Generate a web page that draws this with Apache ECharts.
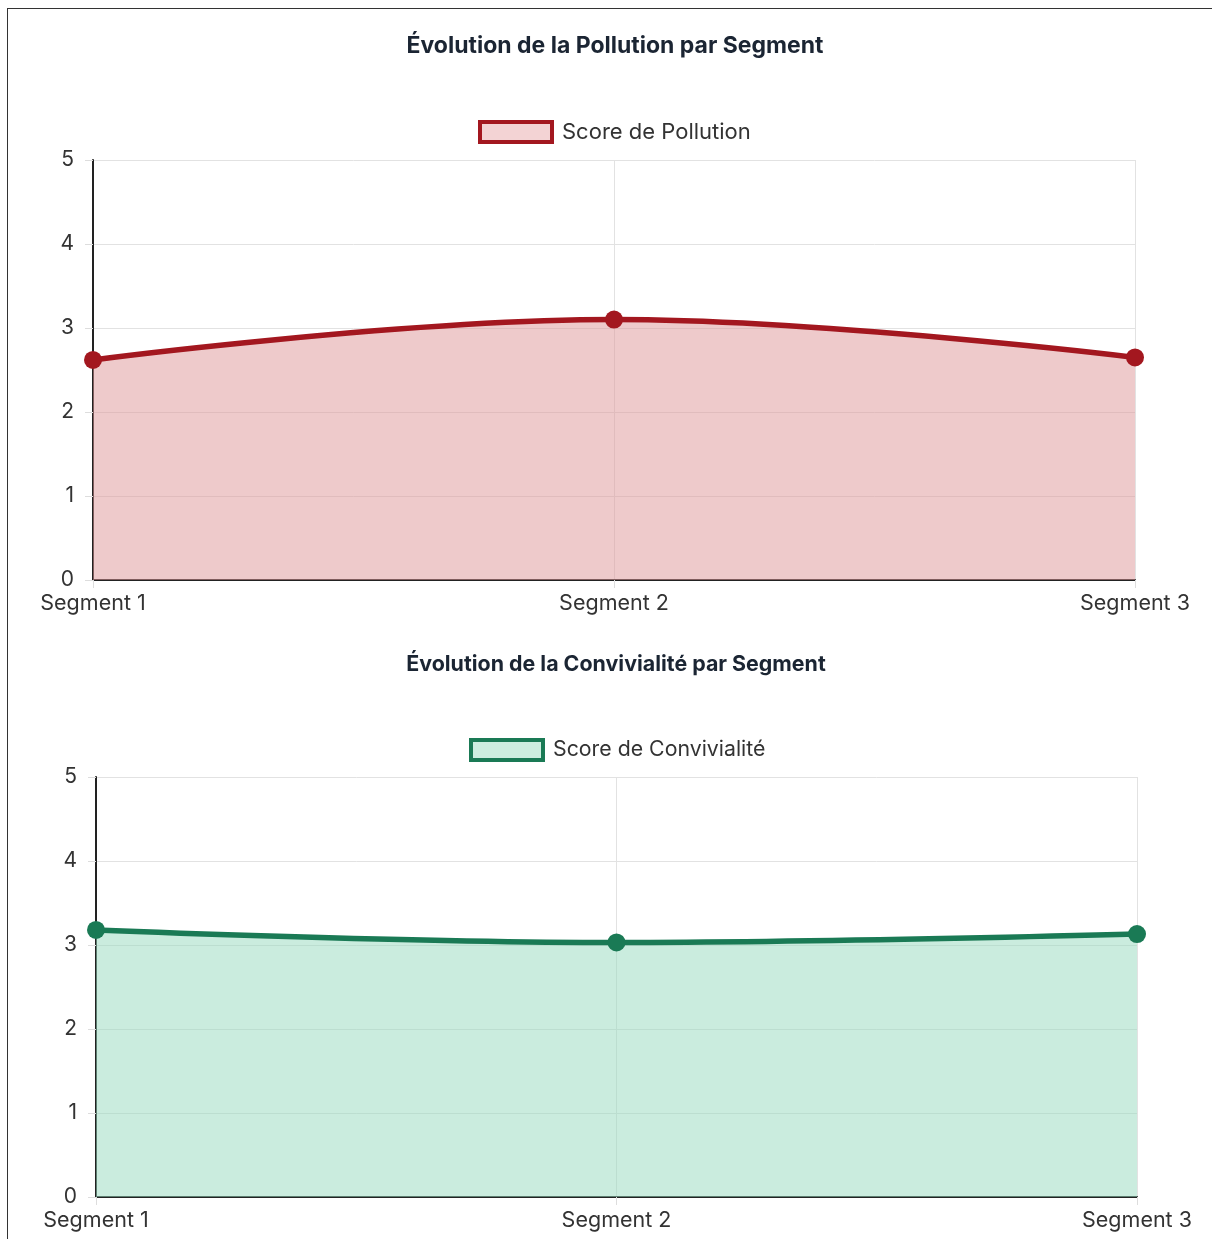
<!DOCTYPE html>
<html><head><meta charset="utf-8">
<script src="https://cdn.jsdelivr.net/npm/echarts@6/dist/echarts.min.js"></script>
<style>
html,body{margin:0;padding:0;background:#fff;}
#frame{position:absolute;left:7px;top:8px;width:1220px;height:1240px;border:1px solid #333;box-sizing:border-box;}
#c{position:absolute;left:0;top:0;width:1212px;height:1239px;}
</style></head>
<body>
<div id="frame"></div>
<div id="c"></div>
<script>
const categories = ['Segment 1', 'Segment 2', 'Segment 3'];
const pollutionScores = [2.62, 3.1, 2.65];
const convivialiteScores = [3.18, 3.03, 3.13];
const yTicks = [0, 1, 2, 3, 4, 5];
const titles = ['Évolution de la Pollution par Segment', 'Évolution de la Convivialité par Segment'];
const seriesNames = ['Score de Pollution', 'Score de Convivialité'];

const FONT = 'Inter';
const chart = echarts.init(document.getElementById('c'), null, {renderer: 'canvas'});
const colors = [
  {line: '#a3171f', fill: 'rgba(222,150,152,0.5)', legendFill: '#f3d3d4'},
  {line: '#1a7a55', fill: 'rgba(150,218,190,0.5)', legendFill: '#cdeee0'}
];
const grids = [
  {left: 93, right: 77, top: 160, height: 420},
  {left: 96, right: 75, top: 777, height: 420}
];
function xAxis(i) {
  return {
    type: 'category', gridIndex: i, data: categories, boundaryGap: false,
    axisLine: {lineStyle: {color: '#222', width: 2}},
    axisTick: {show: true, length: 8, lineStyle: {color: '#ddd'}},
    axisLabel: {color: '#333', fontSize: 21.5, fontFamily: FONT, margin: 13},
    splitLine: {show: true, lineStyle: {color: '#e2e2e2', width: 1}}
  };
}
function yAxis(i) {
  return {
    type: 'value', gridIndex: i, min: yTicks[0], max: yTicks[yTicks.length - 1], interval: 1,
    axisLine: {show: true, lineStyle: {color: '#222', width: 2}},
    axisTick: {show: true, length: 8, lineStyle: {color: '#ddd'}},
    axisLabel: {color: '#333', fontSize: 21, fontFamily: FONT, margin: 19},
    splitLine: {show: true, lineStyle: {color: '#e2e2e2', width: 1}}
  };
}
function series(i, data) {
  return {
    name: seriesNames[i], type: 'line', xAxisIndex: i, yAxisIndex: i, data: data,
    smooth: 0.4, symbol: 'circle', symbolSize: 18,
    lineStyle: {color: colors[i].line, width: 5.5},
    itemStyle: {color: colors[i].line},
    areaStyle: {color: colors[i].fill, opacity: 1}
  };
}
chart.setOption({
  animation: false,
  title: [
    {text: titles[0], left: 615, top: 35, textAlign: 'center', padding: 0, textStyle: {fontFamily: FONT, fontWeight: 'bold', fontSize: 23, color: '#1b2533'}},
    {text: titles[1], left: 616, top: 654, textAlign: 'center', padding: 0, textStyle: {fontFamily: FONT, fontWeight: 'bold', fontSize: 21.4, color: '#1b2533'}}
  ],
  legend: [
    {data: [{name: seriesNames[0], icon: 'rect', itemStyle: {color: colors[0].legendFill, borderColor: colors[0].line, borderWidth: 4}}],
     left: 478, top: 120, padding: 0, itemWidth: 72, itemHeight: 20, itemGap: 10,
     textStyle: {fontFamily: FONT, fontSize: 22, color: '#333', padding: [0, 0, 0, 5]}},
    {data: [{name: seriesNames[1], icon: 'rect', itemStyle: {color: colors[1].legendFill, borderColor: colors[1].line, borderWidth: 4}}],
     left: 469, top: 738, padding: 0, itemWidth: 72, itemHeight: 20, itemGap: 10,
     textStyle: {fontFamily: FONT, fontSize: 21.3, color: '#333', padding: [0, 0, 0, 5]}}
  ],
  grid: grids,
  xAxis: [xAxis(0), xAxis(1)],
  yAxis: [yAxis(0), yAxis(1)],
  series: [series(0, pollutionScores), series(1, convivialiteScores)]
});
</script>
</body></html>
